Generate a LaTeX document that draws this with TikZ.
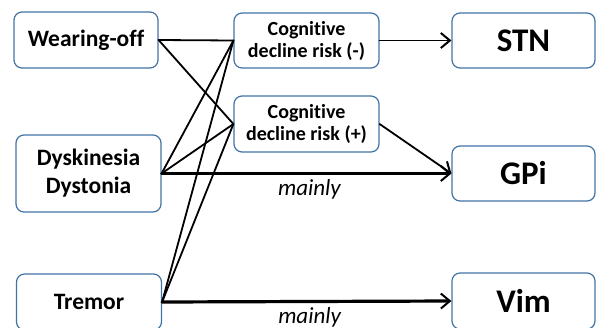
\documentclass[tikz,border=0pt]{standalone}
\usepackage{fontspec}
\setmainfont{Carlito}[Ligatures=NoCommon,RawFeature={-calt;-clig}]
\usetikzlibrary{arrows.meta}
\definecolor{boxblue}{RGB}{65,115,165}
\newcommand{\cogn}{Cognit\kern0pt ive}
\tikzset{
 box/.style={draw=boxblue,line width=1.2pt,rounded corners=8pt,align=center,font=\bfseries},
 link/.style={line width=1.8pt},
 tip/.style={-{Straight Barb[length=9pt,width=15pt,line width=2pt]}}
}
\begin{document}
\begin{tikzpicture}[x=1pt,y=-1pt,line cap=round,line join=round]
 \useasboundingbox (0,0) rectangle (596,327);
 % left column
 \node[box,minimum width=144pt,minimum height=56pt,font=\bfseries\fontsize{23.5}{28}\selectfont] (wear) at (86,40) {Wearing-off};
 \node[box,minimum width=145pt,minimum height=77pt,font=\bfseries\fontsize{23.5}{28}\selectfont] (dysk) at (88.5,173.5) {Dyskinesia\\Dystonia};
 \node[box,minimum width=145pt,minimum height=56pt,font=\bfseries\fontsize{23.5}{28}\selectfont] (trem) at (89,302) {Tremor};
 % middle column
 \node[box,minimum width=145pt,minimum height=55pt,font=\bfseries\fontsize{20}{22}\selectfont] (cogm) at (306.5,40.5) {\cogn\\decline risk (-)};
 \node[box,minimum width=145pt,minimum height=56pt,font=\bfseries\fontsize{20}{22}\selectfont] (cogp) at (306.5,124) {\cogn\\decline risk (+)};
 % targets
 \node[box,minimum width=143pt,minimum height=55pt,font=\bfseries\fontsize{33}{36}\selectfont] (stn) at (523.5,40.5) {STN};
 \node[box,minimum width=143pt,minimum height=55pt,font=\bfseries\fontsize{33}{36}\selectfont] (gpi) at (523.5,173.5) {GPi};
 \node[box,minimum width=143pt,minimum height=56pt,font=\bfseries\fontsize{33}{36}\selectfont] (vim) at (523.5,301) {Vim};
 % links
 \foreach \s in {wear,dysk,trem}{
  \draw[link] (\s.east)--(cogm.west); \draw[link] (\s.east)--(cogp.west);
 }
 \draw[link,tip] (cogm.east)--(stn.west);
 \draw[link,tip] (cogp.east)--(gpi.west);
 \draw[line width=3.2pt,tip] (dysk.east)--(gpi.west) node[pos=.51,below=1pt,font=\itshape\fontsize{23}{24}\selectfont] (m1) {mainly};
 \draw[line width=3.2pt,tip] (trem.east)--(vim.west) node[pos=.51,below=1pt,font=\itshape\fontsize{23}{24}\selectfont] (m2) {mainly};
\end{tikzpicture}
\end{document}
